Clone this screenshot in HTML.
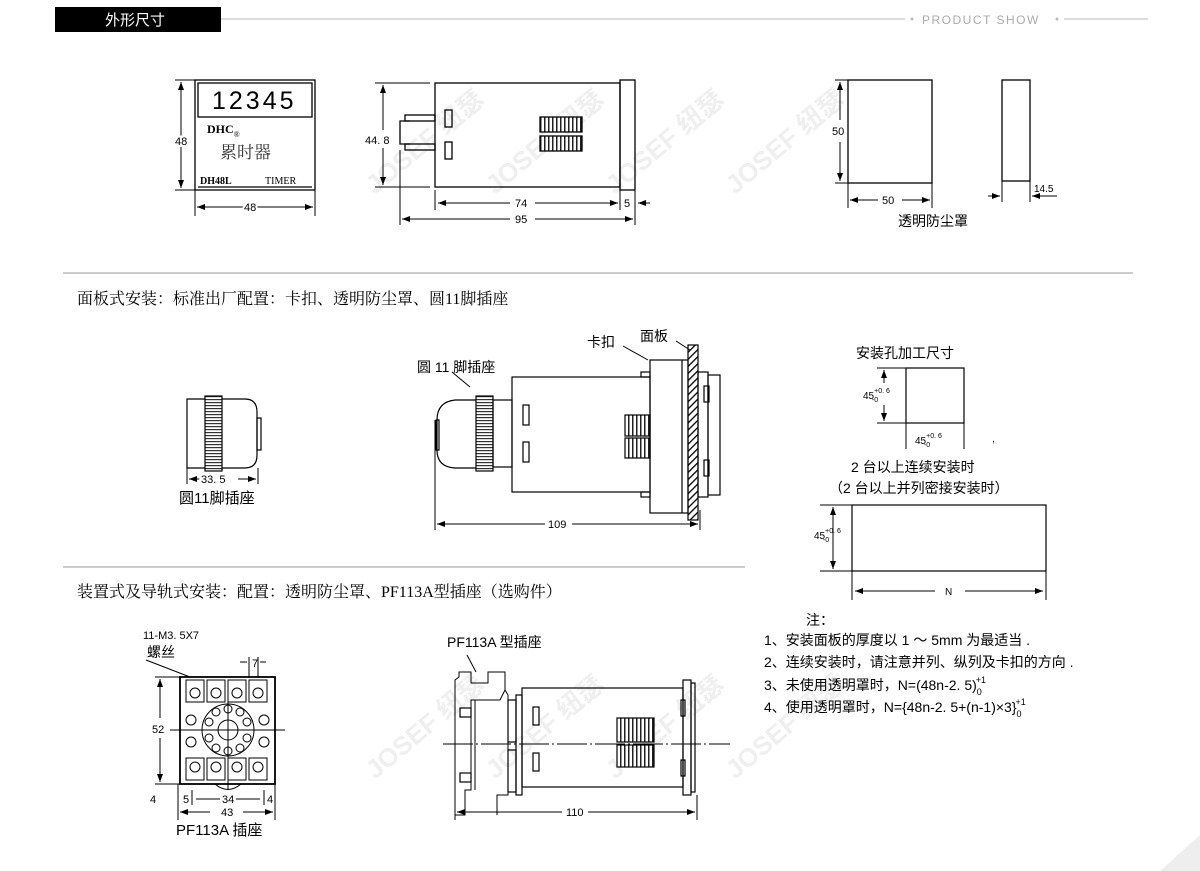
<!DOCTYPE html>
<html><head><meta charset="utf-8"><style>
html,body{margin:0;padding:0;background:#fff;}
svg{display:block}
.s{font-family:"Liberation Sans","Noto Sans CJK SC",sans-serif;}
.r{font-family:"Liberation Serif","Noto Serif CJK SC",serif;}
.wm{font-family:"Liberation Sans","Noto Sans CJK SC",sans-serif;font-weight:bold;font-size:26px;fill:#efefef;}
.bg{stroke:#fff;stroke-width:4;paint-order:stroke;}
</style></head><body>
<svg width="1200" height="871" viewBox="0 0 1200 871" xmlns="http://www.w3.org/2000/svg">
<defs>
<marker id="a" markerWidth="8" markerHeight="6" refX="8" refY="3" orient="auto-start-reverse" markerUnits="userSpaceOnUse"><path d="M0,0 L8,3 L0,6z" fill="#000"/></marker>
<pattern id="g" width="4" height="4" patternUnits="userSpaceOnUse"><rect width="4" height="4" fill="#fff"/><rect width="1.5" height="4" fill="#222"/></pattern>
<pattern id="k" width="4" height="3" patternUnits="userSpaceOnUse"><rect width="4" height="3" fill="#fff"/><rect width="4" height="1.2" fill="#333"/></pattern>
<pattern id="h" width="5" height="5" patternUnits="userSpaceOnUse" patternTransform="rotate(45)"><rect width="1.3" height="5" fill="#000"/></pattern>
</defs>

<g class="wm">
<text transform="translate(375,195) rotate(-40)">JOSEF 纽瑟</text>
<text transform="translate(495,195) rotate(-40)">JOSEF 纽瑟</text>
<text transform="translate(615,195) rotate(-40)">JOSEF 纽瑟</text>
<text transform="translate(735,195) rotate(-40)">JOSEF 纽瑟</text>
<text transform="translate(375,780) rotate(-40)">JOSEF 纽瑟</text>
<text transform="translate(495,780) rotate(-40)">JOSEF 纽瑟</text>
<text transform="translate(615,780) rotate(-40)">JOSEF 纽瑟</text>
<text transform="translate(735,780) rotate(-40)">JOSEF 纽瑟</text>
</g>

<rect x="55" y="7" width="166" height="25" fill="#000"/>
<text x="105" y="25" class="s" font-size="15" fill="#fff">外形尺寸</text>
<line x1="221" y1="19" x2="905" y2="19" stroke="#bbb" stroke-width="1"/>
<circle cx="912" cy="19" r="1.5" fill="#bbb"/>
<text x="922" y="24" class="s" font-size="12" fill="#aaa" letter-spacing="1.5">PRODUCT SHOW</text>
<circle cx="1057" cy="19" r="1.5" fill="#bbb"/>
<line x1="1064" y1="19" x2="1148" y2="19" stroke="#bbb" stroke-width="1"/>
<path d="M1160,871 L1200,835 L1200,871z" fill="#eee"/>

<g stroke="#000" fill="none" stroke-width="1.3">
<rect x="195" y="80" width="120" height="110"/>
<rect x="198" y="83" width="114" height="34"/>
<line x1="198" y1="187" x2="312" y2="187"/>
<line x1="175" y1="80" x2="195" y2="80" stroke-width="1"/>
<line x1="175" y1="190" x2="195" y2="190" stroke-width="1"/>
<line x1="181" y1="82" x2="181" y2="188" stroke-width="1" marker-start="url(#a)" marker-end="url(#a)"/>
<line x1="195" y1="190" x2="195" y2="216" stroke-width="1"/>
<line x1="315" y1="190" x2="315" y2="216" stroke-width="1"/>
<line x1="197" y1="207" x2="313" y2="207" stroke-width="1" marker-start="url(#a)" marker-end="url(#a)"/>

<rect x="435" y="83" width="185" height="104"/>
<rect x="620" y="80" width="15" height="110"/>
<rect x="405" y="115" width="30" height="6"/>
<rect x="405" y="144" width="30" height="6"/>
<path d="M410,121 L400,121 L400,144 L410,144"/>
<rect x="445" y="110" width="7" height="17"/>
<rect x="445" y="142" width="7" height="17"/>
<rect x="540" y="117" width="42" height="15" fill="url(#g)"/>
<rect x="540" y="136" width="42" height="15" fill="url(#g)"/>
<line x1="375" y1="83" x2="430" y2="83" stroke-width="1"/>
<line x1="375" y1="187" x2="430" y2="187" stroke-width="1"/>
<line x1="383" y1="85" x2="383" y2="130" stroke-width="1" marker-start="url(#a)"/>
<line x1="383" y1="148" x2="383" y2="185" stroke-width="1" marker-end="url(#a)"/>
<line x1="435" y1="190" x2="435" y2="210" stroke-width="1"/>
<line x1="620" y1="190" x2="620" y2="210" stroke-width="1"/>
<line x1="400" y1="150" x2="400" y2="225" stroke-width="1"/>
<line x1="635" y1="190" x2="635" y2="225" stroke-width="1"/>
<line x1="438" y1="203" x2="510" y2="203" stroke-width="1" marker-start="url(#a)"/>
<line x1="535" y1="203" x2="618" y2="203" stroke-width="1" marker-end="url(#a)"/>
<line x1="650" y1="203" x2="638" y2="203" stroke-width="1" marker-end="url(#a)"/>
<line x1="402" y1="219" x2="510" y2="219" stroke-width="1" marker-start="url(#a)"/>
<line x1="535" y1="219" x2="633" y2="219" stroke-width="1" marker-end="url(#a)"/>

<rect x="848" y="80" width="84" height="103"/>
<line x1="835" y1="80" x2="848" y2="80" stroke-width="1"/>
<line x1="835" y1="183" x2="848" y2="183" stroke-width="1"/>
<line x1="840" y1="82" x2="840" y2="120" stroke-width="1" marker-start="url(#a)"/>
<line x1="840" y1="142" x2="840" y2="181" stroke-width="1" marker-end="url(#a)"/>
<line x1="848" y1="183" x2="848" y2="208" stroke-width="1"/>
<line x1="932" y1="183" x2="932" y2="208" stroke-width="1"/>
<line x1="850" y1="200" x2="878" y2="200" stroke-width="1" marker-start="url(#a)"/>
<line x1="902" y1="200" x2="930" y2="200" stroke-width="1" marker-end="url(#a)"/>
<rect x="1002" y="80" width="28" height="101"/>
<line x1="1002" y1="181" x2="1002" y2="202" stroke-width="1"/>
<line x1="1030" y1="181" x2="1030" y2="202" stroke-width="1"/>
<line x1="988" y1="196" x2="1000" y2="196" stroke-width="1" marker-end="url(#a)"/>
<line x1="1057" y1="196" x2="1032" y2="196" stroke-width="1" marker-end="url(#a)"/>
</g>

<g class="s" font-size="11">
<text x="175" y="145" class="bg" fill="#000">48</text>
<text x="244" y="211" fill="#000" class="bg">48</text>
<text x="365" y="144">44. 8</text>
<text x="515" y="207">74</text>
<text x="624" y="207">5</text>
<text x="515" y="223">95</text>
<text x="832" y="135">50</text>
<text x="882" y="204">50</text>
<text x="1034" y="192" font-size="10">14.5</text>
<text x="898" y="226" font-size="14">透明防尘罩</text>
</g>
<text x="212" y="109" class="s" font-size="25" letter-spacing="3">12345</text>
<text x="207" y="133" class="r" font-size="12" font-weight="bold">DHC<tspan font-size="8" font-weight="normal" dy="4">®</tspan></text>
<text x="220" y="158" class="r" font-size="17" fill="#333">累时器</text>
<text x="200" y="184" class="r" font-size="10" font-weight="bold">DH48L</text>
<text x="265" y="184" class="r" font-size="10">TIMER</text>

<line x1="63" y1="273" x2="1133" y2="273" stroke="#999" stroke-width="1"/>
<text x="77" y="304" class="r" font-size="16">面板式安装：标准出厂配置：卡扣、透明防尘罩、圆11脚插座</text>

<g stroke="#000" fill="none" stroke-width="1.2">
<path d="M187,399 L245,399 Q257,399 257,412 L257,455 Q257,468 245,468 L187,468 Z"/>
<rect x="257" y="418" width="4" height="32"/>
<rect x="205" y="396" width="17" height="75" fill="url(#k)"/>
<line x1="187" y1="468" x2="187" y2="484" stroke-width="1"/>
<line x1="258" y1="468" x2="258" y2="484" stroke-width="1"/>
<line x1="189" y1="479" x2="207" y2="479" stroke-width="1" marker-start="url(#a)"/>
<line x1="238" y1="479" x2="256" y2="479" stroke-width="1" marker-end="url(#a)"/>

<rect x="512" y="377" width="138" height="115"/>
<rect x="650" y="360" width="38" height="153"/>
<line x1="682" y1="360" x2="682" y2="513"/>
<rect x="641" y="372" width="9" height="5"/>
<rect x="641" y="492" width="9" height="5"/>
<rect x="688" y="345" width="10" height="175" fill="url(#h)"/>
<rect x="698" y="372" width="10" height="125"/>
<rect x="708" y="375" width="12" height="120"/>
<rect x="704" y="386" width="5" height="16"/>
<rect x="704" y="460" width="5" height="16"/>
<rect x="523" y="405" width="6" height="20"/>
<rect x="523" y="442" width="6" height="20"/>
<rect x="625" y="415" width="25" height="21" fill="url(#g)"/>
<rect x="625" y="438" width="25" height="20" fill="url(#g)"/>
<path d="M476,400 L455,400 Q437,402 437,420 L437,450 Q437,467 455,468 L476,468"/>
<rect x="436" y="420" width="3" height="30"/>
<rect x="476" y="396" width="17" height="75" fill="url(#k)"/>
<rect x="493" y="400" width="19" height="67"/>
<line x1="435" y1="420" x2="435" y2="530" stroke-width="1"/>
<line x1="700" y1="510" x2="700" y2="530" stroke-width="1"/>
<line x1="437" y1="524" x2="545" y2="524" stroke-width="1" marker-start="url(#a)"/>
<line x1="572" y1="524" x2="698" y2="524" stroke-width="1" marker-end="url(#a)"/>
<line x1="470" y1="387" x2="452" y2="372" stroke-width="1"/>
<line x1="623" y1="346" x2="648" y2="360" stroke-width="1"/>
<line x1="676" y1="341" x2="690" y2="350" stroke-width="1"/>

<rect x="906" y="368" width="58" height="55"/>
<line x1="877" y1="368" x2="906" y2="368" stroke-width="1"/>
<line x1="877" y1="423" x2="906" y2="423" stroke-width="1"/>
<line x1="884" y1="370" x2="884" y2="383" stroke-width="1" marker-start="url(#a)"/>
<line x1="884" y1="405" x2="884" y2="421" stroke-width="1" marker-end="url(#a)"/>
<line x1="906" y1="423" x2="906" y2="449" stroke-width="1"/>
<line x1="964" y1="423" x2="964" y2="449" stroke-width="1"/>
<rect x="852" y="505" width="194" height="66"/>
<line x1="820" y1="505" x2="852" y2="505" stroke-width="1"/>
<line x1="820" y1="571" x2="852" y2="571" stroke-width="1"/>
<line x1="833" y1="507" x2="833" y2="569" stroke-width="1" marker-start="url(#a)" marker-end="url(#a)"/>
<line x1="852" y1="571" x2="852" y2="600" stroke-width="1"/>
<line x1="1046" y1="571" x2="1046" y2="600" stroke-width="1"/>
<line x1="855" y1="591" x2="935" y2="591" stroke-width="1" marker-start="url(#a)"/>
<line x1="965" y1="591" x2="1043" y2="591" stroke-width="1" marker-end="url(#a)"/>
</g>
<g class="s" font-size="11">
<text x="201" y="483" fill="#000" class="bg">33. 5</text>
<text x="179" y="503" font-size="15">圆11脚插座</text>
<text x="548" y="528">109</text>
<text x="417" y="372" font-size="14">圆 11 脚插座</text>
<text x="587" y="347" font-size="14">卡扣</text>
<text x="640" y="341" font-size="14">面板</text>
<text x="856" y="358" font-size="14">安装孔加工尺寸</text>
<text x="863" y="399" font-size="10">45<tspan font-size="7" dy="-6">+0. 6</tspan><tspan font-size="7" dx="-18" dy="9">-0</tspan></text>
<text x="915" y="444" font-size="10">45<tspan font-size="7" dy="-6">+0. 6</tspan><tspan font-size="7" dx="-18" dy="9">-0</tspan></text>
<text x="992" y="442">,</text>
<text x="851" y="472" font-size="14">2 台以上连续安装时</text>
<text x="829" y="493" font-size="14">（2 台以上并列密接安装时）</text>
<text x="814" y="539" font-size="10">45<tspan font-size="7" dy="-6">+0. 6</tspan><tspan font-size="7" dx="-18" dy="9">-0</tspan></text>
<text x="945" y="595" font-size="10">N</text>
<text x="806" y="625" font-size="14">注：</text>
<text x="764" y="645" font-size="14">1、安装面板的厚度以 1 ～ 5mm 为最适当 .</text>
<text x="764" y="667" font-size="14">2、连续安装时，请注意并列、纵列及卡扣的方向 .</text>
<text x="764" y="690" font-size="14">3、未使用透明罩时，N=(48n-2. 5)<tspan font-size="9" dy="5">0</tspan><tspan font-size="9" dx="-6" dy="-12">+1</tspan></text>
<text x="764" y="712" font-size="14">4、使用透明罩时，N={48n-2. 5+(n-1)×3}<tspan font-size="9" dy="5">0</tspan><tspan font-size="9" dx="-6" dy="-12">+1</tspan></text>
</g>

<line x1="63" y1="567" x2="745" y2="567" stroke="#999" stroke-width="1"/>
<text x="77" y="597" class="r" font-size="16">装置式及导轨式安装：配置：透明防尘罩、PF113A型插座（选购件）</text>

<g stroke="#000" fill="none" stroke-width="1.2">
<rect x="180" y="677" width="95" height="107" stroke-width="1.8"/>
<g stroke-width="1">
<rect x="186" y="680" width="18" height="22"/><rect x="207" y="680" width="18" height="22"/><rect x="228" y="680" width="18" height="22"/><rect x="249" y="680" width="18" height="22"/>
<rect x="186" y="758" width="18" height="22"/><rect x="207" y="758" width="18" height="22"/><rect x="228" y="758" width="18" height="22"/><rect x="249" y="758" width="18" height="22"/>
<circle cx="195" cy="693" r="5"/><circle cx="216" cy="693" r="5"/><circle cx="237" cy="693" r="5"/><circle cx="258" cy="693" r="5"/>
<circle cx="195" cy="767" r="5"/><circle cx="216" cy="767" r="5"/><circle cx="237" cy="767" r="5"/><circle cx="258" cy="767" r="5"/>
<circle cx="191" cy="720" r="5"/><circle cx="191" cy="742" r="5"/><circle cx="264" cy="720" r="5"/><circle cx="264" cy="742" r="5"/>
<circle cx="228" cy="730" r="26"/><circle cx="228" cy="730" r="10"/>
<circle cx="228" cy="709" r="4"/><circle cx="240" cy="712" r="4"/><circle cx="247" cy="722" r="4"/><circle cx="247" cy="738" r="4"/><circle cx="240" cy="748" r="4"/><circle cx="228" cy="751" r="4"/><circle cx="216" cy="748" r="4"/><circle cx="209" cy="738" r="4"/><circle cx="209" cy="722" r="4"/><circle cx="216" cy="712" r="4"/>
<path d="M215,784 Q228,795 241,784"/>
</g>
<line x1="170" y1="730" x2="285" y2="730" stroke-width="1"/>
<line x1="228" y1="700" x2="228" y2="790" stroke-width="1"/>
<line x1="155" y1="677" x2="180" y2="677" stroke-width="1"/>
<line x1="155" y1="784" x2="180" y2="784" stroke-width="1"/>
<line x1="160" y1="679" x2="160" y2="718" stroke-width="1" marker-start="url(#a)"/>
<line x1="160" y1="738" x2="160" y2="782" stroke-width="1" marker-end="url(#a)"/>
<line x1="178" y1="784" x2="178" y2="820" stroke-width="1"/>
<line x1="275" y1="784" x2="275" y2="820" stroke-width="1"/>
<line x1="192" y1="790" x2="192" y2="805" stroke-width="1"/>
<line x1="264" y1="790" x2="264" y2="805" stroke-width="1"/>
<line x1="180" y1="812" x2="210" y2="812" stroke-width="1" marker-start="url(#a)"/>
<line x1="243" y1="812" x2="273" y2="812" stroke-width="1" marker-end="url(#a)"/>
<line x1="196" y1="799" x2="220" y2="799" stroke-width="1"/>
<line x1="236" y1="799" x2="260" y2="799" stroke-width="1"/>
<line x1="240" y1="662" x2="247" y2="662" stroke-width="1"/><line x1="260" y1="662" x2="266" y2="662" stroke-width="1"/>
<line x1="249" y1="657" x2="249" y2="677" stroke-width="1"/><line x1="258" y1="657" x2="258" y2="677" stroke-width="1"/>
<line x1="146" y1="660" x2="190" y2="677" stroke-width="1"/>

<path d="M459,677 L455,680 L455,815 L465,815 L465,790 L471,790 L471,700 L500,700 L505,690 L505,672 L488,672 L488,683 L471,683 L471,672 L459,672 Z" stroke-width="1"/>
<path d="M471,700 L475,700 L475,790 M505,690 L508,695 L508,795 L497,795 L497,815" stroke-width="1"/>
<rect x="508" y="700" width="8" height="42"/>
<rect x="508" y="750" width="8" height="42"/>
<rect x="516" y="695" width="6" height="100"/>
<rect x="460" y="708" width="11" height="9"/>
<rect x="460" y="773" width="11" height="9"/>
<rect x="522" y="688" width="161" height="99"/>
<rect x="683" y="680" width="8" height="115"/>
<rect x="691" y="683" width="4" height="109"/>
<rect x="681" y="700" width="4" height="16"/>
<rect x="681" y="760" width="4" height="16"/>
<rect x="533" y="707" width="6" height="18"/>
<rect x="533" y="753" width="6" height="18"/>
<rect x="617" y="718" width="37" height="24" fill="url(#g)"/>
<rect x="617" y="745" width="37" height="22" fill="url(#g)"/>
<line x1="443" y1="744" x2="730" y2="744" stroke-width="1" stroke-dasharray="30,3,2,3"/>
<line x1="455" y1="800" x2="455" y2="820" stroke-width="1"/>
<line x1="697" y1="795" x2="697" y2="820" stroke-width="1"/>
<line x1="457" y1="812" x2="562" y2="812" stroke-width="1" marker-start="url(#a)"/>
<line x1="588" y1="812" x2="695" y2="812" stroke-width="1" marker-end="url(#a)"/>
<line x1="467" y1="655" x2="476" y2="672" stroke-width="1"/>
</g>
<g class="s" font-size="11">
<text x="143" y="639">11-M3. 5X7</text>
<text x="147" y="657" font-size="14">螺丝</text>
<text x="252" y="667">7</text>
<text x="152" y="733">52</text>
<text x="150" y="803">4</text>
<text x="183" y="803">5</text>
<text x="222" y="803">34</text>
<text x="267" y="803">4</text>
<text x="221" y="816">43</text>
<text x="176" y="835" font-size="15">PF113A 插座</text>
<text x="447" y="647" font-size="14">PF113A 型插座</text>
<text x="566" y="816">110</text>
</g>
</svg>
</body></html>
